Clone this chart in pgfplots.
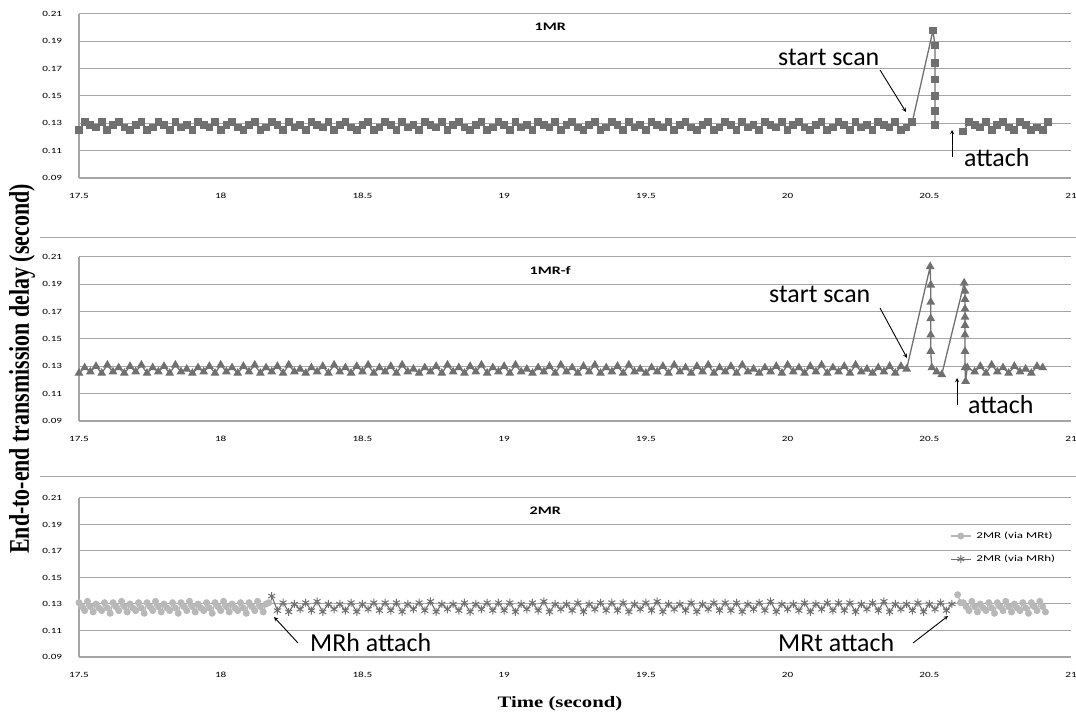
\documentclass[border=0pt]{standalone}
\usepackage{pgfplots}
\pgfplotsset{compat=1.18}
\usepackage{fontspec}
\setmainfont{Carlito}
\newfontfamily\tnr{Liberation Serif}
\definecolor{mkdark}{RGB}{112,112,112}
\definecolor{mklight}{RGB}{184,184,184}
\definecolor{gridgray}{RGB}{165,165,165}
\pgfplotsset{
  panel/.style={
    scale only axis, width=992bp, height=164bp,
    xmin=17.5, xmax=21, ymin=0.09, ymax=0.21,
    xtick={17.5,18,18.5,19,19.5,20,20.5,21},
    ytick={0.09,0.11,0.13,0.15,0.17,0.19,0.21},
    axis x line*=bottom, axis y line*=left,
    axis line style={gridgray, line width=1.2bp},
    ymajorgrids, grid style={gridgray, line width=1bp},
    major tick length=0pt,
    /pgf/number format/assume math mode=true,
    yticklabel style={font=\fontsize{8}{9}\selectfont, anchor=east, xshift=-12bp, xscale=1.4,
      /pgf/number format/fixed, /pgf/number format/fixed zerofill, /pgf/number format/precision=2},
    xticklabel style={font=\fontsize{8}{9}\selectfont, anchor=north, yshift=-12bp, xscale=1.4,
      /pgf/number format/fixed, /pgf/number format/precision=1},
    clip=false,
  },
  sq/.style={color=mkdark, line width=1.3bp, mark=square*, mark size=3.2bp, mark options={solid, fill=mkdark, draw=mkdark}},
  tri/.style={color=mkdark, line width=1.3bp, mark=triangle*, mark size=3.8bp, mark options={solid, fill=mkdark, draw=mkdark}},
  circ/.style={color=mklight, line width=1.3bp, mark=*, mark size=2.8bp, mark options={solid, fill=mklight, draw=mklight}},
  str/.style={color=mkdark, line width=1.1bp, mark=asterisk, mark size=4bp, mark options={solid, draw=mkdark, line width=1bp}},
}
\begin{document}
\begin{tikzpicture}[x=1bp,y=1bp]
\useasboundingbox (0,0) rectangle (1076,714);
% separators
\draw[gridgray, line width=1bp] (40,476) -- (1076,476);
\draw[gridgray, line width=1bp] (40,237) -- (1076,237);

% ---------------- Panel 1: 1MR ----------------
\begin{axis}[panel, at={(79bp,536bp)}, anchor=south west]
\addplot[sq] coordinates {
(17.50,0.125)(17.52,0.131)(17.54,0.129)(17.56,0.127)(17.58,0.131)(17.60,0.125)(17.62,0.129)(17.64,0.131)(17.66,0.127)(17.68,0.125)
(17.70,0.129)(17.72,0.131)(17.74,0.125)(17.76,0.127)(17.78,0.131)(17.80,0.129)(17.82,0.125)(17.84,0.131)(17.86,0.127)(17.88,0.129)
(17.90,0.125)(17.92,0.131)(17.94,0.129)(17.96,0.127)(17.98,0.131)(18.00,0.125)(18.02,0.129)(18.04,0.131)(18.06,0.127)(18.08,0.125)
(18.10,0.129)(18.12,0.131)(18.14,0.125)(18.16,0.127)(18.18,0.131)(18.20,0.129)(18.22,0.125)(18.24,0.131)(18.26,0.127)(18.28,0.129)
(18.30,0.125)(18.32,0.131)(18.34,0.129)(18.36,0.127)(18.38,0.131)(18.40,0.125)(18.42,0.129)(18.44,0.131)(18.46,0.127)(18.48,0.125)
(18.50,0.129)(18.52,0.131)(18.54,0.125)(18.56,0.127)(18.58,0.131)(18.60,0.129)(18.62,0.125)(18.64,0.131)(18.66,0.127)(18.68,0.129)
(18.70,0.125)(18.72,0.131)(18.74,0.129)(18.76,0.127)(18.78,0.131)(18.80,0.125)(18.82,0.129)(18.84,0.131)(18.86,0.127)(18.88,0.125)
(18.90,0.129)(18.92,0.131)(18.94,0.125)(18.96,0.127)(18.98,0.131)(19.00,0.129)(19.02,0.125)(19.04,0.131)(19.06,0.127)(19.08,0.129)
(19.10,0.125)(19.12,0.131)(19.14,0.129)(19.16,0.127)(19.18,0.131)(19.20,0.125)(19.22,0.129)(19.24,0.131)(19.26,0.127)(19.28,0.125)
(19.30,0.129)(19.32,0.131)(19.34,0.125)(19.36,0.127)(19.38,0.131)(19.40,0.129)(19.42,0.125)(19.44,0.131)(19.46,0.127)(19.48,0.129)
(19.50,0.125)(19.52,0.131)(19.54,0.129)(19.56,0.127)(19.58,0.131)(19.60,0.125)(19.62,0.129)(19.64,0.131)(19.66,0.127)(19.68,0.125)
(19.70,0.129)(19.72,0.131)(19.74,0.125)(19.76,0.127)(19.78,0.131)(19.80,0.129)(19.82,0.125)(19.84,0.131)(19.86,0.127)(19.88,0.129)
(19.90,0.125)(19.92,0.131)(19.94,0.129)(19.96,0.127)(19.98,0.131)(20.00,0.125)(20.02,0.129)(20.04,0.131)(20.06,0.127)(20.08,0.125)
(20.10,0.129)(20.12,0.131)(20.14,0.125)(20.16,0.127)(20.18,0.131)(20.20,0.129)(20.22,0.125)(20.24,0.131)(20.26,0.127)(20.28,0.129)
(20.30,0.125)(20.32,0.131)(20.34,0.129)(20.36,0.127)(20.38,0.131)(20.40,0.125)(20.42,0.127)(20.44,0.131)
(20.513,0.198)(20.52,0.187)(20.52,0.174)(20.52,0.162)(20.52,0.150)(20.52,0.139)(20.52,0.129)
};
\addplot[sq] coordinates {
(20.62,0.124)(20.64,0.131)(20.66,0.129)(20.68,0.127)(20.70,0.131)(20.72,0.125)(20.74,0.129)(20.76,0.131)(20.78,0.127)(20.80,0.125)
(20.82,0.131)(20.84,0.129)(20.86,0.125)(20.88,0.127)(20.90,0.125)(20.92,0.131)
};
\node[font=\fontsize{11.5}{12}\selectfont\bfseries, xscale=1.4] at (axis description cs:0.475,0.92) {1MR};
\end{axis}

% ---------------- Panel 2: 1MR-f ----------------
\begin{axis}[panel, at={(79bp,293bp)}, anchor=south west]
\addplot[tri] coordinates {
(17.50,0.125)(17.52,0.129)(17.54,0.126)(17.56,0.130)(17.58,0.125)(17.60,0.131)(17.62,0.126)(17.64,0.129)(17.66,0.125)(17.68,0.130)
(17.70,0.126)(17.72,0.131)(17.74,0.125)(17.76,0.129)(17.78,0.126)(17.80,0.130)(17.82,0.125)(17.84,0.131)(17.86,0.126)(17.88,0.128)
(17.90,0.125)(17.92,0.129)(17.94,0.126)(17.96,0.130)(17.98,0.125)(18.00,0.131)(18.02,0.126)(18.04,0.129)(18.06,0.125)(18.08,0.130)
(18.10,0.126)(18.12,0.131)(18.14,0.125)(18.16,0.129)(18.18,0.126)(18.20,0.130)(18.22,0.125)(18.24,0.131)(18.26,0.126)(18.28,0.128)
(18.30,0.125)(18.32,0.129)(18.34,0.126)(18.36,0.130)(18.38,0.125)(18.40,0.131)(18.42,0.126)(18.44,0.129)(18.46,0.125)(18.48,0.130)
(18.50,0.126)(18.52,0.131)(18.54,0.125)(18.56,0.129)(18.58,0.126)(18.60,0.130)(18.62,0.125)(18.64,0.131)(18.66,0.126)(18.68,0.128)
(18.70,0.125)(18.72,0.129)(18.74,0.126)(18.76,0.130)(18.78,0.125)(18.80,0.131)(18.82,0.126)(18.84,0.129)(18.86,0.125)(18.88,0.130)
(18.90,0.126)(18.92,0.131)(18.94,0.125)(18.96,0.129)(18.98,0.126)(19.00,0.130)(19.02,0.125)(19.04,0.131)(19.06,0.126)(19.08,0.128)
(19.10,0.125)(19.12,0.129)(19.14,0.126)(19.16,0.130)(19.18,0.125)(19.20,0.131)(19.22,0.126)(19.24,0.129)(19.26,0.125)(19.28,0.130)
(19.30,0.126)(19.32,0.131)(19.34,0.125)(19.36,0.129)(19.38,0.126)(19.40,0.130)(19.42,0.125)(19.44,0.131)(19.46,0.126)(19.48,0.128)
(19.50,0.125)(19.52,0.129)(19.54,0.126)(19.56,0.130)(19.58,0.125)(19.60,0.131)(19.62,0.126)(19.64,0.129)(19.66,0.125)(19.68,0.130)
(19.70,0.126)(19.72,0.131)(19.74,0.125)(19.76,0.129)(19.78,0.126)(19.80,0.130)(19.82,0.125)(19.84,0.131)(19.86,0.126)(19.88,0.128)
(19.90,0.125)(19.92,0.129)(19.94,0.126)(19.96,0.130)(19.98,0.125)(20.00,0.131)(20.02,0.126)(20.04,0.129)(20.06,0.125)(20.08,0.130)
(20.10,0.126)(20.12,0.131)(20.14,0.125)(20.16,0.129)(20.18,0.126)(20.20,0.130)(20.22,0.125)(20.24,0.131)(20.26,0.126)(20.28,0.128)
(20.30,0.125)(20.32,0.129)(20.34,0.126)(20.36,0.130)(20.38,0.125)(20.40,0.130)(20.42,0.128)
(20.503,0.203)(20.505,0.1895)(20.505,0.177)(20.505,0.165)(20.505,0.153)(20.505,0.141)(20.509,0.129)(20.526,0.126)(20.544,0.124)
(20.623,0.191)(20.626,0.185)(20.626,0.179)(20.626,0.172)(20.626,0.166)(20.626,0.160)(20.626,0.153)(20.626,0.141)(20.626,0.129)(20.628,0.119)
(20.634,0.129)(20.66,0.126)(20.68,0.130)(20.70,0.125)(20.72,0.131)(20.74,0.126)(20.76,0.129)(20.78,0.125)(20.80,0.130)(20.82,0.126)
(20.84,0.128)(20.86,0.125)(20.88,0.130)(20.90,0.129)
};
\node[font=\fontsize{11.5}{12}\selectfont\bfseries, xscale=1.4] at (axis description cs:0.475,0.92) {1MR-f};
\end{axis}

% ---------------- Panel 3: 2MR ----------------
\begin{axis}[panel, height=159bp, at={(79bp,57bp)}, anchor=south west,
  legend style={draw=none, fill=none, at={(axis description cs:0.878,0.80)}, anchor=north west,
    font=\fontsize{9}{10}\selectfont, row sep=11bp, inner sep=0pt, column sep=3bp,
    cells={anchor=west}},
  legend image code/.code={\draw[#1, mark repeat=2, mark phase=2] plot coordinates {(0bp,0bp) (10bp,0bp) (20bp,0bp)};},
  legend cell align=left]
\addplot[circ] coordinates {
(17.50,0.131)(17.51,0.128)(17.52,0.125)(17.53,0.132)(17.54,0.128)(17.55,0.124)(17.56,0.130)(17.57,0.127)(17.58,0.125)
(17.59,0.131)(17.60,0.127)(17.61,0.123)(17.62,0.131)(17.63,0.128)(17.64,0.125)(17.65,0.132)(17.66,0.128)(17.67,0.124)
(17.68,0.130)(17.69,0.127)(17.70,0.125)(17.71,0.131)(17.72,0.127)(17.73,0.123)(17.74,0.131)(17.75,0.128)(17.76,0.125)
(17.77,0.132)(17.78,0.128)(17.79,0.124)(17.80,0.130)(17.81,0.127)(17.82,0.125)(17.83,0.131)(17.84,0.127)(17.85,0.123)
(17.86,0.131)(17.87,0.128)(17.88,0.125)(17.89,0.132)(17.90,0.128)(17.91,0.124)(17.92,0.130)(17.93,0.127)(17.94,0.125)
(17.95,0.131)(17.96,0.127)(17.97,0.123)(17.98,0.131)(17.99,0.128)(18.00,0.125)(18.01,0.132)(18.02,0.128)(18.03,0.124)
(18.04,0.130)(18.05,0.127)(18.06,0.125)(18.07,0.131)(18.08,0.127)(18.09,0.123)(18.10,0.131)(18.11,0.128)(18.12,0.125)
(18.13,0.132)(18.14,0.128)(18.15,0.124)(18.16,0.130)(18.17,0.131)
};
\addlegendentry{\scalebox{1.45}[1]{2MR (via MRt)}}
\addplot[str] coordinates {
(18.18,0.136)
(18.20,0.125)(18.22,0.131)(18.24,0.124)(18.26,0.130)(18.28,0.126)(18.30,0.131)(18.32,0.125)(18.34,0.132)(18.36,0.124)(18.38,0.130)
(18.40,0.126)(18.42,0.130)(18.44,0.125)(18.46,0.131)(18.48,0.124)(18.50,0.130)(18.52,0.126)(18.54,0.131)(18.56,0.125)(18.58,0.131)
(18.60,0.125)(18.62,0.131)(18.64,0.124)(18.66,0.130)(18.68,0.126)(18.70,0.131)(18.72,0.125)(18.74,0.132)(18.76,0.124)(18.78,0.130)
(18.80,0.126)(18.82,0.130)(18.84,0.125)(18.86,0.131)(18.88,0.124)(18.90,0.130)(18.92,0.126)(18.94,0.131)(18.96,0.125)(18.98,0.131)
(19.00,0.125)(19.02,0.131)(19.04,0.124)(19.06,0.130)(19.08,0.126)(19.10,0.131)(19.12,0.125)(19.14,0.132)(19.16,0.124)(19.18,0.130)
(19.20,0.126)(19.22,0.130)(19.24,0.125)(19.26,0.131)(19.28,0.124)(19.30,0.130)(19.32,0.126)(19.34,0.131)(19.36,0.125)(19.38,0.131)
(19.40,0.125)(19.42,0.131)(19.44,0.124)(19.46,0.130)(19.48,0.126)(19.50,0.131)(19.52,0.125)(19.54,0.132)(19.56,0.124)(19.58,0.130)
(19.60,0.126)(19.62,0.130)(19.64,0.125)(19.66,0.131)(19.68,0.124)(19.70,0.130)(19.72,0.126)(19.74,0.131)(19.76,0.125)(19.78,0.131)
(19.80,0.125)(19.82,0.131)(19.84,0.124)(19.86,0.130)(19.88,0.126)(19.90,0.131)(19.92,0.125)(19.94,0.132)(19.96,0.124)(19.98,0.130)
(20.00,0.126)(20.02,0.130)(20.04,0.125)(20.06,0.131)(20.08,0.124)(20.10,0.130)(20.12,0.126)(20.14,0.131)(20.16,0.125)(20.18,0.131)
(20.20,0.125)(20.22,0.131)(20.24,0.124)(20.26,0.130)(20.28,0.126)(20.30,0.131)(20.32,0.125)(20.34,0.132)(20.36,0.124)(20.38,0.130)
(20.40,0.126)(20.42,0.130)(20.44,0.125)(20.46,0.131)(20.48,0.124)(20.50,0.130)(20.52,0.126)(20.54,0.131)(20.56,0.125)(20.58,0.130)
};
\addlegendentry{\scalebox{1.45}[1]{2MR (via MRh)}}
\addplot[circ, forget plot] coordinates {
(20.60,0.137)(20.61,0.131)(20.62,0.131)(20.63,0.128)(20.64,0.125)(20.65,0.132)(20.66,0.128)(20.67,0.124)
(20.68,0.130)(20.69,0.127)(20.70,0.125)(20.71,0.131)(20.72,0.127)(20.73,0.123)(20.74,0.131)(20.75,0.128)(20.76,0.125)
(20.77,0.132)(20.78,0.128)(20.79,0.124)(20.80,0.130)(20.81,0.127)(20.82,0.125)(20.83,0.131)(20.84,0.127)(20.85,0.123)
(20.86,0.131)(20.87,0.128)(20.88,0.125)(20.89,0.132)(20.90,0.128)(20.91,0.124)
};
\node[font=\fontsize{11.5}{12}\selectfont\bfseries, xscale=1.4] at (axis description cs:0.47,0.918) {2MR};
\end{axis}

% ---------------- annotations ----------------
\begin{scope}[font=\fontsize{26}{28}\selectfont]
\node[anchor=base west, inner sep=0pt] at (778,648) {start scan};
\draw[-stealth, line width=0.9bp] (880,644) -- (906,602);
\node[anchor=base west, inner sep=0pt] at (964,547) {attach};
\draw[-stealth, line width=0.9bp] (952,557) -- (952,584);
\node[anchor=base west, inner sep=0pt] at (769,411) {start scan};
\draw[-stealth, line width=0.9bp] (880,406) -- (907,356);
\node[anchor=base west, inner sep=0pt] at (968,300) {attach};
\draw[-stealth, line width=0.9bp] (957,309) -- (957,336);
\node[anchor=base west, inner sep=0pt] at (310,62) {MRh attach};
\draw[-stealth, line width=0.9bp] (298,71) -- (274,97);
\node[anchor=base west, inner sep=0pt] at (778,62) {MRt attach};
\draw[-stealth, line width=0.9bp] (913,71) -- (948,98);
\end{scope}

% axis titles
\node[rotate=90, yscale=1.3, font=\tnr\bfseries\fontsize{22}{24}\selectfont] at (22,345) {End-to-end transmission delay (second)};
\node[font=\tnr\bfseries\fontsize{16}{18}\selectfont, xscale=1.3] at (560,10) {Time (second)};
\end{tikzpicture}
\end{document}
